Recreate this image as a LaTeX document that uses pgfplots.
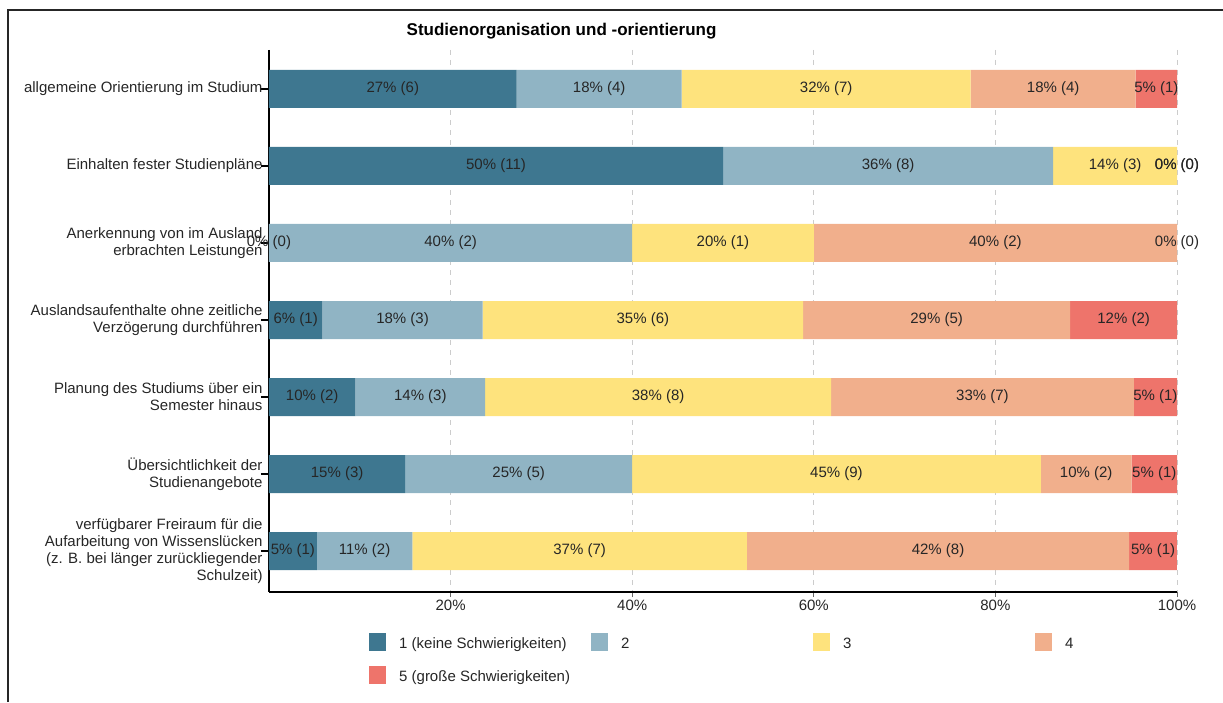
\documentclass[border=0pt]{standalone}
\usepackage{pgfplots}
\usepackage{pgfplotstable}
\usepackage{fontspec}
\setmainfont{Liberation Sans}
\pgfplotsset{compat=1.18}
\definecolor{cA}{HTML}{3E7790}
\definecolor{cB}{HTML}{90B4C4}
\definecolor{cC}{HTML}{FEE37D}
\definecolor{cD}{HTML}{F1AF8C}
\definecolor{cE}{HTML}{EE746B}
\definecolor{txt}{HTML}{262626}

\pgfplotstableread{
y a b c d e
0 27.273 18.182 31.818 18.182 4.545
1 50 36.364 13.636 0 0
2 0 40 20 40 0
3 5.882 17.647 35.294 29.412 11.765
4 9.524 14.286 38.095 33.333 4.762
5 15 25 45 10 5
6 5.263 10.526 36.842 42.105 5.263
}\bars

\pgfplotstableread[col sep=comma]{
x,y,lab
13.636,0,27\% (6)
36.364,0,18\% (4)
61.364,0,32\% (7)
86.364,0,18\% (4)
97.727,0,5\% (1)
25,1,50\% (11)
68.182,1,36\% (8)
93.182,1,14\% (3)
100,1,0\% (0)
100,1,0\% (0)
0,2,0\% (0)
20,2,40\% (2)
50,2,20\% (1)
80,2,40\% (2)
100,2,0\% (0)
2.941,3,6\% (1)
14.706,3,18\% (3)
41.176,3,35\% (6)
73.529,3,29\% (5)
94.118,3,12\% (2)
4.762,4,10\% (2)
16.667,4,14\% (3)
42.857,4,38\% (8)
78.571,4,33\% (7)
97.619,4,5\% (1)
7.5,5,15\% (3)
27.5,5,25\% (5)
62.5,5,45\% (9)
90,5,10\% (2)
97.5,5,5\% (1)
2.632,6,5\% (1)
10.526,6,11\% (2)
34.211,6,37\% (7)
73.684,6,42\% (8)
97.368,6,5\% (1)
}\labels

\pgfplotsset{
  base/.style={
    scale only axis,
    width=908pt, height=542pt,
    xmin=0, xmax=100,
    ymin=-0.506, ymax=6.532,
    y dir=reverse,
  }
}

\begin{document}
\begin{tikzpicture}
\useasboundingbox (-269pt,-110pt) rectangle (954pt,592pt);
\draw[line width=1.3pt, black!85] (-261pt,-110pt) -- (-261pt,582pt) -- (954pt,582pt);
\begin{axis}[
  base,
  xbar stacked,
  bar width=38pt,
  axis x line*=bottom,
  axis y line*=left,
  axis line style={line width=2pt, black, -},
  tick align=outside,
  xtick={20,40,60,80,100},
  xticklabels={20\%,40\%,60\%,80\%,100\%},
  ytick={0,1,2,3,4,5,6},
  yticklabels={
    {allgemeine Orientierung im Studium},
    {Einhalten fester Studienpläne},
    {Anerkennung von im Ausland\\erbrachten Leistungen},
    {Auslandsaufenthalte ohne zeitliche\\Verzögerung durchführen},
    {Planung des Studiums über ein\\Semester hinaus},
    {Übersichtlichkeit der\\Studienangebote},
    {verfügbarer Freiraum für die\\Aufarbeitung von Wissenslücken\\(z. B. bei länger zurückliegender\\Schulzeit)}
  },
  xtick style={black!60, line width=1pt, /pgfplots/major tick length=5pt},
  ytick style={black, line width=1.2pt, /pgfplots/major tick length=8pt},
  xticklabel style={font=\fontsize{15}{17}\selectfont, text=txt},
  yticklabel style={align=right, font=\fontsize{15}{17}\selectfont, text=txt, inner xsep=0pt, xshift=-2pt},
  xmajorgrids,
  major grid style={black!20, line width=0.8pt, dash pattern=on 5pt off 5pt},
  title={Studienorganisation und -orientierung},
  title style={at={(axis description cs:0.3222,1)}, anchor=center, yshift=13pt, font=\fontsize{17}{20}\selectfont\bfseries},
  legend columns=4,
  legend cell align=left,
  legend style={draw=none, fill=none, inner sep=0pt,
    at={(axis description cs:0.1101,-0.0756)}, anchor=north west,
    nodes={inner sep=0pt, text depth=0pt, font=\fontsize{15}{17}\selectfont, text=txt},
    column sep=0pt, row sep=15pt,
    /tikz/every odd column/.append style={column sep=13pt}},
  legend image code/.code={\fill[#1, draw=none] (0pt,-8pt) rectangle (17pt,10pt);},
]
\addplot[fill=cA, draw=none] table[x=a, y=y] {\bars};
\addlegendentry{\makebox[192pt][l]{1 (keine Schwierigkeiten)}}
\addplot[fill=cB, draw=none] table[x=b, y=y] {\bars};
\addlegendentry{\makebox[192pt][l]{2}}
\addplot[fill=cC, draw=none] table[x=c, y=y] {\bars};
\addlegendentry{\makebox[192pt][l]{3}}
\addplot[fill=cD, draw=none] table[x=d, y=y] {\bars};
\addlegendentry{\makebox[192pt][l]{4}}
\addplot[fill=cE, draw=none] table[x=e, y=y] {\bars};
\addlegendentry{\makebox[192pt][l]{5 (große Schwierigkeiten)}}
\end{axis}
\begin{axis}[base, hide axis, clip=false]
\addplot[draw=none, mark=none, nodes near coords, point meta=explicit symbolic,
  every node near coord/.style={anchor=center, font=\fontsize{15}{17}\selectfont, text=txt, inner sep=0pt}]
  table[x=x, y=y, meta=lab] {\labels};
\end{axis}
\end{tikzpicture}
\end{document}
